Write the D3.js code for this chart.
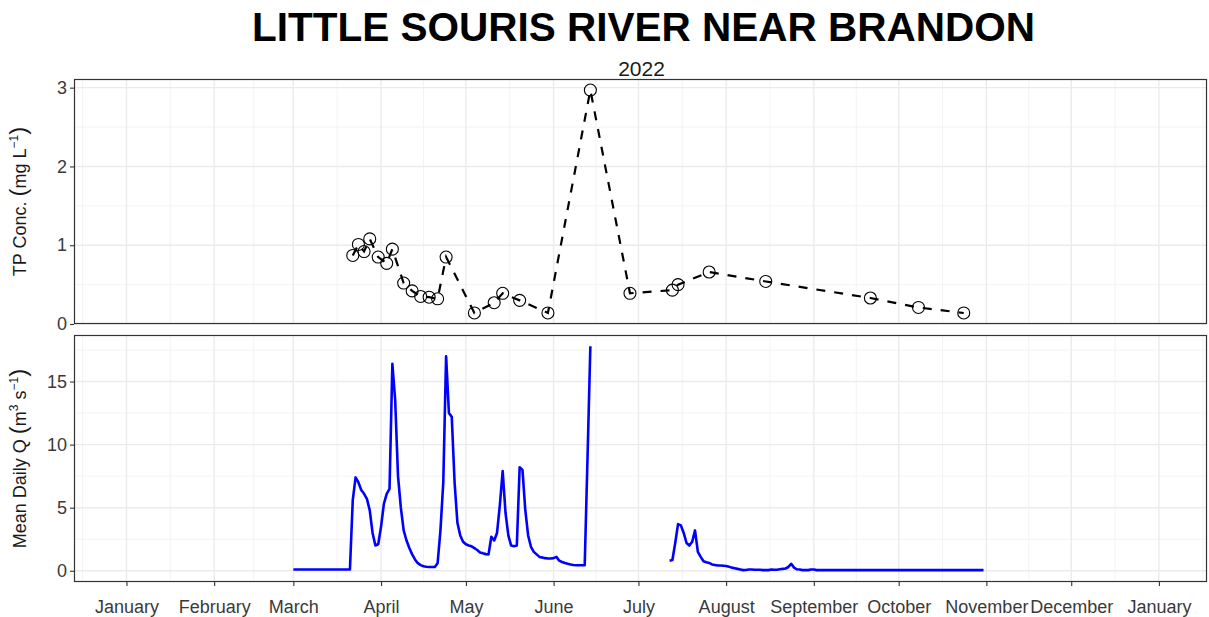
<!DOCTYPE html>
<html>
<head>
<meta charset="utf-8">
<script src="https://cdn.jsdelivr.net/npm/d3@7"></script>
<style>
  body { margin: 0; background: #fff; }
  svg { display: block; font-family: 'Liberation Sans', Arial, Helvetica, sans-serif; }
</style>
</head>
<body>
<svg id="chart" width="1209" height="617"></svg>
<script>
// --- data ---
const tpDates = ["2022-03-22", "2022-03-24", "2022-03-26", "2022-03-28", "2022-03-31", "2022-04-03",
  "2022-04-05", "2022-04-09", "2022-04-12", "2022-04-15", "2022-04-18", "2022-04-21", "2022-04-24",
  "2022-05-04", "2022-05-11", "2022-05-14", "2022-05-20", "2022-05-30", "2022-06-14", "2022-06-28",
  "2022-07-13", "2022-07-15", "2022-07-26", "2022-08-15", "2022-09-21", "2022-10-08", "2022-10-24"];
const tpValues = [0.87, 1.01, 0.92, 1.08, 0.85, 0.77, 0.95, 0.52, 0.42, 0.35, 0.34, 0.32, 0.85,
  0.14, 0.27, 0.39, 0.30, 0.14, 2.97, 0.39, 0.43, 0.50, 0.66, 0.54, 0.33, 0.21, 0.14];

// mean daily flow, Mar 1 - Jun 14
const flowSpringStart = "2022-03-01";
const flowSpring = [
  0.1, 0.1, 0.1, 0.1, 0.1, 0.1, 0.1, 0.1, 0.1, 0.1, 0.1, 0.1, 0.1, 0.1, 0.1, 0.1, 0.1, 0.1, 0.1, 0.1, 0.1,
  5.6, 7.4, 7.0, 6.4, 6.1, 5.7, 4.8, 3.0, 2.0, 2.1, 3.5, 5.3, 6.1, 6.5, 16.4, 13.5, 7.5, 5.0, 3.2, 2.4,
  1.8, 1.3, 0.9, 0.6, 0.45, 0.36, 0.32, 0.3, 0.3, 0.3, 0.6, 3.2, 7.0, 17.0, 12.5, 12.2, 7.0, 3.8, 2.8, 2.3,
  2.1, 2.0, 1.94, 1.8, 1.65, 1.45, 1.38, 1.32, 1.3, 2.7, 2.4, 3.0, 5.2, 7.9, 4.6, 2.8, 2.0, 1.95, 2.0, 8.2,
  8.0, 4.8, 2.8, 1.9, 1.5, 1.3, 1.1, 1.05, 1.0, 0.97, 0.97, 1.0, 1.1, 0.8, 0.7, 0.62, 0.55, 0.5, 0.46, 0.44,
  0.44, 0.44, 0.44, 9.0, 17.8
];
// mean daily flow, Jul 12 - Oct 31
const flowSummerStart = "2022-07-12";
const flowSummer = [
  0.8, 0.85, 2.2, 3.7, 3.6, 3.0, 2.2, 2.0, 2.3, 3.2, 1.5, 1.1, 0.75, 0.68, 0.62, 0.5, 0.46, 0.42, 0.42, 0.4,
  0.38, 0.32, 0.25, 0.2, 0.15, 0.1, 0.05, 0.06, 0.1, 0.1, 0.08, 0.08, 0.08, 0.05, 0.05, 0.05, 0.1, 0.08, 0.08, 0.12,
  0.15, 0.18, 0.3, 0.55, 0.25, 0.12, 0.1, 0.05, 0.05, 0.05, 0.1, 0.1,
  0.05, 0.05, 0.05, 0.05, 0.05, 0.05, 0.05, 0.05, 0.05, 0.05, 0.05, 0.05, 0.05, 0.05, 0.05, 0.05, 0.05, 0.05, 0.05, 0.05,
  0.05, 0.05, 0.05, 0.05, 0.05, 0.05, 0.05, 0.05, 0.05, 0.05, 0.05, 0.05, 0.05, 0.05, 0.05, 0.05, 0.05, 0.05, 0.05, 0.05,
  0.05, 0.05, 0.05, 0.05, 0.05, 0.05, 0.05, 0.05, 0.05, 0.05, 0.05, 0.05, 0.05, 0.05, 0.05, 0.05, 0.05, 0.05, 0.05, 0.05
];

const monthLabels = ["January", "February", "March", "April", "May", "June", "July",
  "August", "September", "October", "November", "December", "January"];
const tpTicks = [0, 1, 2, 3];
const flowTicks = [0, 5, 10, 15];

// --- layout ---
const W = 1209, H = 617;
const panelLeft = 74, panelRight = 1207;
const topPanel = { top: 79, bottom: 324 };
const botPanel = { top: 335, bottom: 582 };
const gridMajor = "#ebebeb", gridMinor = "#f3f3f3";
const textCol = "#3a3a3a";

const parse = d3.utcParse("%Y-%m-%d");
const DAY = 864e5;

const tp = tpDates.map((d, i) => ({ date: parse(d), value: tpValues[i] }));

function daily(start, values) {
  const s = parse(start);
  return values.map((v, i) => ({ date: d3.utcDay.offset(s, i), value: v }));
}
const flow = [
  ...daily(flowSpringStart, flowSpring),
  { date: d3.utcDay.offset(parse(flowSpringStart), flowSpring.length), value: null },
  ...daily(flowSummerStart, flowSummer)
];

// --- scales ---
const yearStart = parse("2022-01-01"), yearEnd = parse("2023-01-01");
const x = d3.scaleUtc()
  .domain([new Date(+yearStart - 18.55 * DAY), new Date(+yearEnd + 17.0 * DAY)])
  .range([panelLeft, panelRight]);

const yTP = d3.scaleLinear().domain([0, 3.11]).range([topPanel.bottom, topPanel.top]);
const yQ = d3.scaleLinear().domain([-0.89, 18.69]).range([botPanel.bottom, botPanel.top]);

const monthBreaks = d3.utcMonth.range(yearStart, d3.utcDay.offset(yearEnd, 1));
const minorBreaks = [];
for (let i = 0; i < monthBreaks.length - 1; i++) {
  minorBreaks.push(new Date((+monthBreaks[i] + +monthBreaks[i + 1]) / 2));
}
minorBreaks.unshift(new Date(+monthBreaks[0] - (+minorBreaks[0] - +monthBreaks[0])));
minorBreaks.push(new Date(+monthBreaks[monthBreaks.length - 1] + (+monthBreaks[monthBreaks.length - 1] - +minorBreaks[minorBreaks.length - 1])));

const svg = d3.select("#chart");
svg.append("rect").attr("width", W).attr("height", H).attr("fill", "#fff");

// --- title ---
svg.append("text")
  .attr("x", (panelLeft + panelRight) / 2 + 3).attr("y", 41)
  .attr("text-anchor", "middle")
  .attr("font-size", 40.5).attr("font-weight", "bold").attr("fill", "#000")
  .text("LITTLE SOURIS RIVER NEAR BRANDON");
svg.append("text")
  .attr("x", (panelLeft + panelRight) / 2 + 1).attr("y", 76)
  .attr("text-anchor", "middle")
  .attr("font-size", 21).attr("fill", "#1a1a1a")
  .text("2022");

function drawPanel(p, y, ticks, minorTicks) {
  const g = svg.append("g");
  // minor grid
  g.selectAll(".vminor").data(minorBreaks).enter().append("line")
    .attr("x1", d => x(d)).attr("x2", d => x(d))
    .attr("y1", p.top).attr("y2", p.bottom)
    .attr("stroke", gridMinor).attr("stroke-width", 1);
  g.selectAll(".hminor").data(minorTicks).enter().append("line")
    .attr("x1", panelLeft).attr("x2", panelRight)
    .attr("y1", d => y(d)).attr("y2", d => y(d))
    .attr("stroke", gridMinor).attr("stroke-width", 1);
  // major grid
  g.selectAll(".vmajor").data(monthBreaks).enter().append("line")
    .attr("x1", d => x(d)).attr("x2", d => x(d))
    .attr("y1", p.top).attr("y2", p.bottom)
    .attr("stroke", gridMajor).attr("stroke-width", 1.4);
  g.selectAll(".hmajor").data(ticks).enter().append("line")
    .attr("x1", panelLeft).attr("x2", panelRight)
    .attr("y1", d => y(d)).attr("y2", d => y(d))
    .attr("stroke", gridMajor).attr("stroke-width", 1.4);

  // left axis
  const ax = svg.append("g")
    .attr("transform", `translate(${panelLeft},0)`)
    .call(d3.axisLeft(y).tickValues(ticks).tickSize(4).tickPadding(3).tickFormat(d3.format("d")));
  ax.select(".domain").remove();
  ax.selectAll(".tick line").attr("stroke", "#333").attr("stroke-width", 1.1);
  ax.selectAll(".tick text").attr("font-size", 18).attr("fill", textCol)
    .attr("font-family", "'Liberation Sans', Arial, sans-serif");
  return g;
}

drawPanel(topPanel, yTP, tpTicks, [0.5, 1.5, 2.5]);
drawPanel(botPanel, yQ, flowTicks, [2.5, 7.5, 12.5, 17.5]);

// --- TP series ---
const tpLine = d3.line().x(d => x(d.date)).y(d => yTP(d.value));
svg.append("path").datum(tp)
  .attr("d", tpLine)
  .attr("fill", "none").attr("stroke", "#000")
  .attr("stroke-width", 2.2).attr("stroke-dasharray", "9,9");
svg.append("g").selectAll("circle").data(tp).enter().append("circle")
  .attr("cx", d => x(d.date)).attr("cy", d => yTP(d.value))
  .attr("r", 6).attr("fill", "none").attr("stroke", "#000").attr("stroke-width", 1.1);

// --- flow series ---
const qLine = d3.line().defined(d => d.value != null).x(d => x(d.date)).y(d => yQ(d.value));
svg.append("path").datum(flow)
  .attr("d", qLine)
  .attr("fill", "none").attr("stroke", "#0000ff")
  .attr("stroke-width", 2.6).attr("stroke-linejoin", "round");

// --- panel borders ---
[topPanel, botPanel].forEach(p => {
  svg.append("rect")
    .attr("x", panelLeft + 0.5).attr("y", p.top + 0.5)
    .attr("width", panelRight - panelLeft - 1).attr("height", p.bottom - p.top - 1)
    .attr("fill", "none").attr("stroke", "#333").attr("stroke-width", 1.2);
});

// --- bottom axis ---
const bx = svg.append("g")
  .attr("transform", `translate(0,${botPanel.bottom})`)
  .call(d3.axisBottom(x).tickValues(monthBreaks).tickSize(4).tickPadding(14)
    .tickFormat((d, i) => monthLabels[i]));
bx.select(".domain").remove();
bx.selectAll(".tick line").attr("stroke", "#333").attr("stroke-width", 1.1);
bx.selectAll(".tick text").attr("font-size", 18).attr("fill", textCol)
  .attr("font-family", "'Liberation Sans', Arial, sans-serif");

// --- y titles ---
function yTitle(cy, parts) {
  const t = svg.append("text")
    .attr("transform", `translate(26,${cy}) rotate(-90)`)
    .attr("text-anchor", "middle")
    .attr("font-size", 18).attr("fill", "#1a1a1a");
  parts.forEach(p => {
    const s = t.append("tspan").text(p.text);
    if (p.size) s.attr("font-size", p.size);
    if (p.dy) s.attr("dy", p.dy);
  });
}
yTitle((topPanel.top + topPanel.bottom) / 2, [
  { text: "TP Conc. " },
  { text: "(", size: 24 },
  { text: "mg L" },
  { text: "\u22121", size: 12, dy: -8 },
  { text: ")", size: 24, dy: 8 }
]);
yTitle((botPanel.top + botPanel.bottom) / 2, [
  { text: "Mean Daily Q " },
  { text: "(", size: 24 },
  { text: "m" },
  { text: "3", size: 12, dy: -8 },
  { text: " s", dy: 8 },
  { text: "\u22121", size: 12, dy: -8 },
  { text: ")", size: 24, dy: 8 }
]);
</script>
</body>
</html>
